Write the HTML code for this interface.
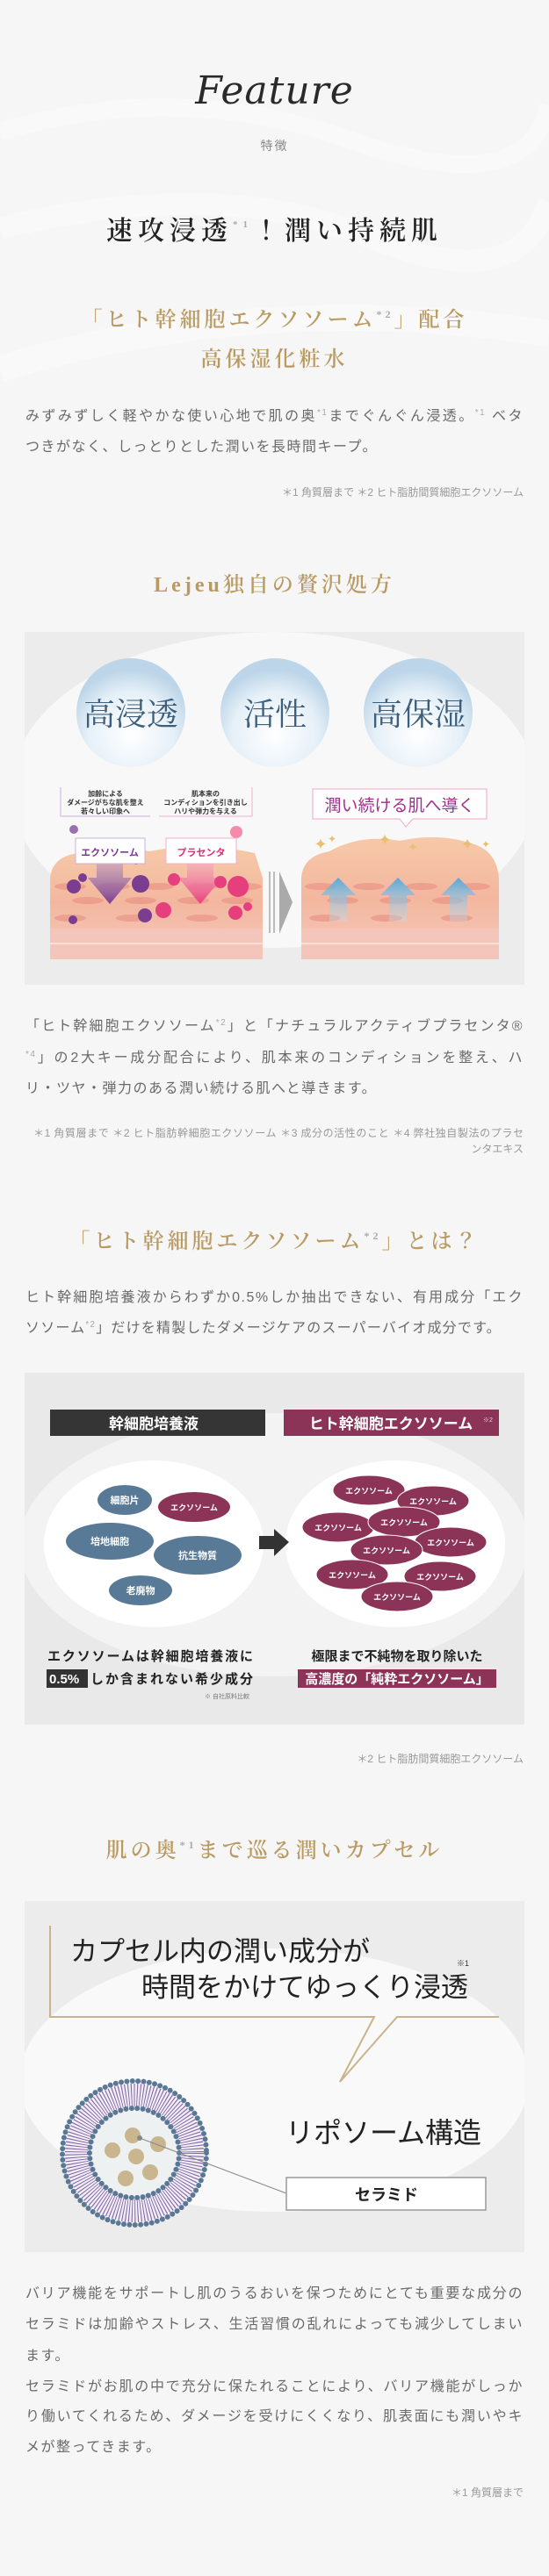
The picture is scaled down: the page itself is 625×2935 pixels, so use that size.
<!DOCTYPE html>
<html><head><meta charset="utf-8">
<style>
*{margin:0;padding:0;box-sizing:border-box}
body{width:625px;height:2935px;background:#f6f6f6;position:relative;overflow:hidden;font-family:"Liberation Sans","Noto Sans CJK JP",sans-serif;color:#666}
.a{position:absolute}
.c{left:0;width:625px;text-align:center}
.gold{color:#b99a62;font-family:"Liberation Serif","Noto Serif CJK JP",serif;font-size:24px;letter-spacing:4px;line-height:34px;font-weight:600}
.body{left:29px;width:567px;font-size:16px;letter-spacing:1.5px;line-height:35px;color:#6a6a6a;white-space:nowrap}
.j{text-align:justify;text-align-last:justify}
.fn{left:29px;width:567px;text-align:right;font-size:12px;color:#999;line-height:18px;white-space:nowrap}
sup{font-size:10px;vertical-align:6px;line-height:0;color:#aaa}
.gold sup{font-size:12px;vertical-align:10px}
</style></head><body>
<svg class="a" style="left:0;top:0" width="625" height="700"><path d="M0 150 Q200 90 400 160 T625 120" stroke="#fff" stroke-width="20" fill="none" opacity=".35"/><path d="M0 260 Q250 200 420 270 T625 230" stroke="#fff" stroke-width="25" fill="none" opacity=".3"/><path d="M0 420 Q300 330 625 380" stroke="#fff" stroke-width="30" fill="none" opacity=".3"/></svg>

<div class="a c" style="top:78px;font-family:'DejaVu Serif',serif;font-style:italic;font-size:44px;color:#2a2a2a;letter-spacing:1px">Feature</div>
<div class="a c" style="top:156px;font-size:14px;color:#888;letter-spacing:2px">特徴</div>
<div class="a c" style="top:244px;font-family:'Liberation Serif','Noto Serif CJK JP',serif;font-size:30px;letter-spacing:6px;color:#222;font-weight:600;line-height:40px">速攻浸透<sup style="font-size:11px;vertical-align:14px">*1</sup>！潤い持続肌</div>

<div class="a c gold" style="top:348px">「ヒト幹細胞エクソソーム<sup>*2</sup>」配合</div>
<div class="a c gold" style="top:393px">高保湿化粧水</div>

<div class="a body j" style="top:457px">みずみずしく軽やかな使い心地で肌の奥<sup>*1</sup>までぐんぐん浸透。<sup>*1</sup> ベタ</div>
<div class="a body" style="top:492px">つきがなく、しっとりとした潤いを長時間キープ。</div>
<div class="a fn" style="top:552px">＊1 角質層まで ＊2 ヒト脂肪間質細胞エクソソーム</div>

<div class="a c gold" style="top:650px">Lejeu独自の贅沢処方</div>

<svg class="a" style="left:28px;top:720px" width="569" height="402" viewBox="28 720 569 402">
<defs>
<radialGradient id="bub" cx="50%" cy="70%" r="60%"><stop offset="0" stop-color="#ffffff"/><stop offset=".65" stop-color="#e6f0f8"/><stop offset="1" stop-color="#bcd5e8"/></radialGradient>
<linearGradient id="skin" x1="0" y1="0" x2="0" y2="1"><stop offset="0" stop-color="#f6c9a8"/><stop offset=".5" stop-color="#f3b79f"/><stop offset="1" stop-color="#f4c8bb"/></linearGradient>
<linearGradient id="pa" x1="0" y1="0" x2="0" y2="1"><stop offset="0" stop-color="#b9a0c8" stop-opacity=".4"/><stop offset="1" stop-color="#7b3d8f"/></linearGradient>
<linearGradient id="pk" x1="0" y1="0" x2="0" y2="1"><stop offset="0" stop-color="#f7b5cc" stop-opacity=".4"/><stop offset="1" stop-color="#e63f7e"/></linearGradient>
<linearGradient id="bl" x1="0" y1="1" x2="0" y2="0"><stop offset="0" stop-color="#bfe0f0" stop-opacity=".3"/><stop offset="1" stop-color="#5aa7d6"/></linearGradient>
</defs>
<rect x="28" y="720" width="569" height="402" fill="#ececec"/>
<ellipse cx="312" cy="900" rx="300" ry="180" fill="#f8f8f8"/>
<g font-family="Liberation Serif,Noto Serif CJK JP,serif" font-size="36" fill="#3d5f7c" text-anchor="middle">
<circle cx="149" cy="812" r="62" fill="url(#bub)"/><text x="149" y="826">高浸透</text>
<circle cx="313" cy="812" r="62" fill="url(#bub)"/><text x="313" y="826">活性</text>
<circle cx="476" cy="812" r="62" fill="url(#bub)"/><text x="476" y="826">高保湿</text>
</g>
<g font-size="8" fill="#333" text-anchor="middle" font-weight="bold">
<path d="M69 897V930H171" stroke="#c8b0d8" fill="none"/><text x="120" y="907">加齢による</text><text x="120" y="917">ダメージがちな肌を整え</text><text x="120" y="927">若々しい印象へ</text>
<path d="M181 930H287V897" stroke="#f0b0cc" fill="none"/><text x="234" y="907">肌本来の</text><text x="234" y="917">コンディションを引き出し</text><text x="234" y="927">ハリや弾力を与える</text>
</g>
<path d="M57 1000 Q60 975 90 972 Q130 960 170 970 Q230 958 290 972 L299 1000 V1093 H57Z" fill="url(#skin)"/>
<g fill="#e98f80" opacity=".6"><ellipse cx="80" cy="1010" rx="18" ry="4"/><ellipse cx="130" cy="1010" rx="18" ry="4"/><ellipse cx="180" cy="1010" rx="18" ry="4"/><ellipse cx="230" cy="1010" rx="18" ry="4"/><ellipse cx="280" cy="1010" rx="18" ry="4"/><ellipse cx="100" cy="1026" rx="18" ry="4"/><ellipse cx="160" cy="1026" rx="18" ry="4"/><ellipse cx="220" cy="1026" rx="18" ry="4"/><ellipse cx="270" cy="1026" rx="18" ry="4"/><ellipse cx="80" cy="1046" rx="18" ry="4"/><ellipse cx="150" cy="1046" rx="18" ry="4"/><ellipse cx="230" cy="1046" rx="18" ry="4"/></g>
<rect x="57" y="1058" width="242" height="35" fill="#f3c5bb"/>
<path d="M57 1075H299" stroke="#fbe0da" stroke-width="2"/>
<path d="M110 975H140V1000H150L125 1030L100 1000H110Z" fill="url(#pa)"/>
<path d="M213 975H243V1000H253L228 1030L203 1000H213Z" fill="url(#pk)"/>
<g fill="#7b3d8f"><circle cx="84" cy="1010" r="8"/><circle cx="160" cy="1007" r="10"/><circle cx="94" cy="1000" r="5"/><circle cx="165" cy="1043" r="8"/><circle cx="83" cy="1048" r="5"/><circle cx="155" cy="980" r="5"/><circle cx="84" cy="945" r="5" fill="#9a6fb0"/></g>
<g fill="#e63f7e"><circle cx="271" cy="1010" r="12"/><circle cx="198" cy="1002" r="7"/><circle cx="268" cy="1040" r="8"/><circle cx="282" cy="1033" r="5"/><circle cx="186" cy="1037" r="9"/><circle cx="251" cy="1005" r="7"/><circle cx="269" cy="948" r="7" fill="#f58aaa"/></g>
<rect x="86" y="955" width="79" height="29" fill="#fff" stroke="#c8b0d8"/><text x="125" y="975" text-anchor="middle" font-size="11" font-weight="bold" fill="#7b3d8f">エクソソーム</text>
<rect x="189" y="955" width="80" height="29" fill="#fff" stroke="#f0b0cc"/><text x="229" y="975" text-anchor="middle" font-size="11" font-weight="bold" fill="#e0307a">プラセンタ</text>
<rect x="306" y="993" width="2" height="70" fill="#bbb"/><rect x="311" y="993" width="2" height="70" fill="#bbb"/>
<path d="M318 993L333 1028L318 1064Z" fill="#aaa"/>
<path d="M343 1000 Q345 975 375 970 Q410 950 455 958 Q500 948 540 962 Q565 970 568 1000 V1093 H343Z" fill="url(#skin)"/>
<g fill="#e98f80" opacity=".6"><ellipse cx="365" cy="1010" rx="18" ry="4"/><ellipse cx="420" cy="1010" rx="18" ry="4"/><ellipse cx="480" cy="1010" rx="18" ry="4"/><ellipse cx="540" cy="1010" rx="18" ry="4"/><ellipse cx="390" cy="1026" rx="18" ry="4"/><ellipse cx="450" cy="1026" rx="18" ry="4"/><ellipse cx="510" cy="1026" rx="18" ry="4"/><ellipse cx="370" cy="1046" rx="18" ry="4"/><ellipse cx="440" cy="1046" rx="18" ry="4"/><ellipse cx="520" cy="1046" rx="18" ry="4"/></g>
<rect x="343" y="1058" width="225" height="35" fill="#f3c5bb"/>
<path d="M343 1075H568" stroke="#fbe0da" stroke-width="2"/>
<path d="M375 1050V1020H365L385 1000L405 1020H395V1050Z" fill="url(#bl)"/>
<path d="M443 1050V1020H433L453 1000L473 1020H463V1050Z" fill="url(#bl)"/>
<path d="M512 1050V1020H502L522 1000L542 1020H532V1050Z" fill="url(#bl)"/>
<path d="M356 933V899H554V933H470L462 942L455 933Z" fill="#fff" stroke="#f0a6c8"/>
<text x="455" y="924" text-anchor="middle" font-size="19" fill="#a0308a">潤い続ける肌へ導く</text>
<g fill="#e8c070" font-size="18" text-anchor="middle"><text x="365" y="968">✦</text><text x="378" y="960" font-size="12">✦</text><text x="438" y="963">✦</text><text x="470" y="970" font-size="14">✦</text><text x="532" y="968">✦</text><text x="553" y="966" font-size="12">✦</text></g>
</svg>

<div class="a body j" style="top:1152px">「ヒト幹細胞エクソソーム<sup>*2</sup>」と「ナチュラルアクティブプラセンタ®</div>
<div class="a body j" style="top:1188px"><sup>*4</sup>」の2大キー成分配合により、肌本来のコンディションを整え、ハ</div>
<div class="a body" style="top:1223px">リ・ツヤ・弾力のある潤い続ける肌へと導きます。</div>
<div class="a fn j" style="top:1282px;left:38px;width:558px">＊1 角質層まで ＊2 ヒト脂肪幹細胞エクソソーム ＊3 成分の活性のこと ＊4 弊社独自製法のプラセ</div>
<div class="a fn" style="top:1300px">ンタエキス</div>

<div class="a c gold" style="top:1398px">「ヒト幹細胞エクソソーム<sup>*2</sup>」とは？</div>
<div class="a body j" style="top:1461px">ヒト幹細胞培養液からわずか0.5%しか抽出できない、有用成分「エク</div>
<div class="a body" style="top:1496px;letter-spacing:1.2px">ソソーム<sup>*2</sup>」だけを精製したダメージケアのスーパーバイオ成分です。</div>

<svg class="a" style="left:28px;top:1564px" width="569" height="401" viewBox="28 1564 569 401">
<rect x="28" y="1564" width="569" height="401" fill="#e9e9e9"/>
<ellipse cx="312" cy="1760" rx="290" ry="150" fill="#f3f3f3"/>
<ellipse cx="175" cy="1759" rx="125" ry="95" fill="#fff"/>
<ellipse cx="450" cy="1759" rx="125" ry="95" fill="#fff"/>
<rect x="57" y="1606" width="245" height="30" fill="#353535"/>
<text x="175" y="1628" text-anchor="middle" font-size="17" fill="#fff" font-weight="bold">幹細胞培養液</text>
<rect x="323" y="1606" width="245" height="30" fill="#8b3457"/>
<text x="445" y="1628" text-anchor="middle" font-size="17" fill="#fff" font-weight="bold">ヒト幹細胞エクソソーム</text>
<text x="550" y="1620" font-size="7" fill="#ddd">※2</text>
<g font-size="11" fill="#fff" text-anchor="middle" font-weight="bold">
<ellipse cx="142" cy="1709" rx="31" ry="17" fill="#587a96"/><text x="142" y="1713">細胞片</text>
<ellipse cx="221" cy="1717" rx="41" ry="17" fill="#8b3457"/><text x="221" y="1721" font-size="9">エクソソーム</text>
<ellipse cx="125" cy="1756" rx="50" ry="21" fill="#587a96"/><text x="125" y="1760">培地細胞</text>
<ellipse cx="225" cy="1772" rx="50" ry="22" fill="#587a96"/><text x="225" y="1776">抗生物質</text>
<ellipse cx="160" cy="1812" rx="36" ry="17" fill="#587a96"/><text x="160" y="1816">老廃物</text>
</g>
<path d="M295 1750H312V1742L329 1757L312 1773V1765H295Z" fill="#333"/>
<g font-size="9" fill="#fff" text-anchor="middle" font-weight="bold">
<g fill="#8b3457" stroke="#fff" stroke-width="1"><ellipse cx="420" cy="1698" rx="41" ry="17"/><ellipse cx="493" cy="1710" rx="41" ry="17"/><ellipse cx="385" cy="1740" rx="41" ry="17"/><ellipse cx="460" cy="1734" rx="41" ry="17"/><ellipse cx="513" cy="1757" rx="41" ry="17"/><ellipse cx="440" cy="1766" rx="41" ry="17"/><ellipse cx="401" cy="1794" rx="41" ry="17"/><ellipse cx="501" cy="1796" rx="41" ry="17"/><ellipse cx="452" cy="1819" rx="41" ry="17"/></g>
<text x="420" y="1702">エクソソーム</text><text x="493" y="1714">エクソソーム</text><text x="385" y="1744">エクソソーム</text><text x="460" y="1738">エクソソーム</text><text x="513" y="1761">エクソソーム</text><text x="440" y="1770">エクソソーム</text><text x="401" y="1798">エクソソーム</text><text x="501" y="1800">エクソソーム</text><text x="452" y="1823">エクソソーム</text>
</g>
<g font-size="15" fill="#222" font-weight="bold">
<text x="54" y="1892" textLength="234">エクソソームは幹細胞培養液に</text>
<rect x="53" y="1902" width="47" height="21" fill="#333"/>
<text x="56" y="1918" fill="#fff">0.5%</text>
<text x="103" y="1918" textLength="185">しか含まれない希少成分</text>
<text x="452" y="1892" text-anchor="middle">極限まで不純物を取り除いた</text>
<rect x="339" y="1902" width="226" height="21" fill="#8b3457"/>
<text x="452" y="1918" text-anchor="middle" fill="#fff">高濃度の「純粋エクソソーム」</text>
</g>
<text x="233" y="1935" font-size="7" fill="#777">※ 自社原料比較</text>
</svg>
<div class="a fn" style="top:1995px">＊2 ヒト脂肪間質細胞エクソソーム</div>

<div class="a c gold" style="top:2092px">肌の奥<sup>*1</sup>まで巡る潤いカプセル</div>

<svg class="a" style="left:28px;top:2166px" width="569" height="400" viewBox="28 2166 569 400">
<rect x="28" y="2166" width="569" height="400" fill="#ececec"/>
<ellipse cx="312" cy="2370" rx="290" ry="150" fill="#f9f9f9"/>
<path d="M57 2194V2298H426L387 2372L452 2298H568" stroke="#c8b48a" stroke-width="2" fill="none"/>
<text x="80" y="2234" font-size="31" fill="#222">カプセル内の潤い成分が</text>
<text x="161" y="2275" font-size="31" fill="#222">時間をかけてゆっくり浸透</text>
<text x="520" y="2240" font-size="9" fill="#333">※1</text>
<circle cx="153" cy="2453" r="84" fill="#eef0f4"/>
<circle cx="153" cy="2453" r="66" fill="none" stroke="#8a63a8" stroke-width="26" stroke-dasharray="1 2.2"/>
<circle cx="153" cy="2453" r="82" fill="none" stroke="#5a7894" stroke-width="6" stroke-linecap="round" stroke-dasharray="0 6.4"/>
<circle cx="153" cy="2453" r="51" fill="none" stroke="#5a7894" stroke-width="6" stroke-linecap="round" stroke-dasharray="0 6.4"/>
<circle cx="153" cy="2453" r="46" fill="#eef1f1"/>
<g fill="#c9b58e"><circle cx="151" cy="2433" r="9"/><circle cx="180" cy="2443" r="9"/><circle cx="128" cy="2450" r="9"/><circle cx="155" cy="2457" r="9"/><circle cx="143" cy="2482" r="9"/><circle cx="171" cy="2475" r="9"/></g>
<circle cx="159" cy="2436" r="3" fill="#888"/>
<path d="M159 2436L326 2499" stroke="#888" stroke-width="1"/>
<text x="325" y="2441" font-size="32" fill="#222">リポソーム構造</text>
<rect x="326" y="2481" width="227" height="37" fill="#fff" stroke="#999" stroke-width="1.5"/>
<text x="440" y="2507" text-anchor="middle" font-size="18" fill="#222" font-weight="bold">セラミド</text>
</svg>

<div class="a body j" style="top:2596px">バリア機能をサポートし肌のうるおいを保つためにとても重要な成分の</div>
<div class="a body j" style="top:2631px">セラミドは加齢やストレス、生活習慣の乱れによっても減少してしまい</div>
<div class="a body" style="top:2667px">ます。</div>
<div class="a body j" style="top:2702px">セラミドがお肌の中で充分に保たれることにより、バリア機能がしっか</div>
<div class="a body j" style="top:2736px">り働いてくれるため、ダメージを受けにくくなり、肌表面にも潤いやキ</div>
<div class="a body" style="top:2771px">メが整ってきます。</div>
<div class="a fn" style="top:2831px">＊1 角質層まで</div>
</body></html>
